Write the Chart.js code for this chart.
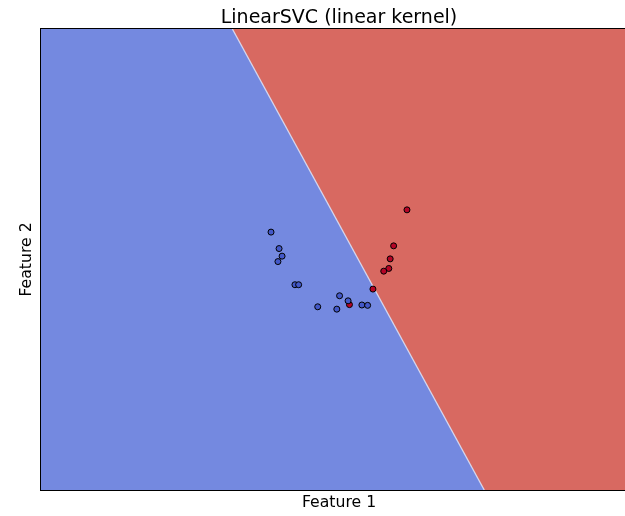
<!DOCTYPE html>
<html>
<head>
<meta charset="utf-8">
<title>LinearSVC (linear kernel)</title>
<script src="https://cdn.jsdelivr.net/npm/chart.js@4.4.1/dist/chart.umd.min.js"></script>
<style>
html,body{margin:0;padding:0;overflow:hidden;background:#fff}
</style>
</head>
<body>
<canvas id="svcChart" width="678" height="516"></canvas>
<script>
// amostras da classe 0 (azul)
const class0X = [0.000, 0.035, 0.048, 0.030, 0.104, 0.120, 0.298, 0.335, 0.203, 0.286, 0.395, 0.420];
const class0Y = [0.424, 0.333, 0.291, 0.261, 0.133, 0.133, 0.072, 0.044, 0.011, -0.002, 0.021, 0.019];
// amostras da classe 1 (vermelho)
const class1X = [0.591, 0.533, 0.518, 0.512, 0.490, 0.443, 0.341];
const class1Y = [0.547, 0.348, 0.276, 0.223, 0.208, 0.109, 0.023];
// fronteira de decisão: extremos da reta dentro da grade
const boundaryX = [-0.168, 0.927];
const boundaryY = [1.547, -1.002];
// limites da grade (min-1, max+1)
const xRange = [-1.0, 1.591];
const yRange = [-1.002, 1.547];

const FONT = "'DejaVu Sans', 'Liberation Sans', sans-serif";
const BLUE_AREA = 'rgb(116,137,224)';
const RED_AREA = 'rgb(216,105,97)';

function toPoints(xs, ys){
  return xs.map((x,i)=>({x:x, y:ys[i]}));
}

// fundo vermelho + moldura do eixo
const areaPlugin = {
  id:'areaPlugin',
  beforeDraw(chart){
    const a = chart.chartArea, ctx = chart.ctx;
    ctx.save();
    ctx.fillStyle = RED_AREA;
    ctx.fillRect(a.left, a.top, a.right-a.left, a.bottom-a.top);
    ctx.restore();
  },
  afterDraw(chart){
    const a = chart.chartArea, ctx = chart.ctx;
    ctx.save();
    ctx.strokeStyle = '#000';
    ctx.lineWidth = 1;
    ctx.strokeRect(a.left-0.5, a.top-0.5, a.right-a.left+1, a.bottom-a.top+1);
    ctx.restore();
  }
};

const blueRegion = [
  {x:xRange[0], y:yRange[1]},
  {x:boundaryX[0], y:boundaryY[0]},
  {x:boundaryX[1], y:boundaryY[1]}
];

new Chart(document.getElementById('svcChart').getContext('2d'),{
  type:'scatter',
  data:{datasets:[
    {type:'scatter', data:toPoints(class0X,class0Y), backgroundColor:'#4358c8', borderColor:'#000', borderWidth:1, pointRadius:3, order:0},
    {type:'scatter', data:toPoints(class1X,class1Y), backgroundColor:'#b40426', borderColor:'#000', borderWidth:1, pointRadius:3, order:0},
    {type:'line', data:toPoints(boundaryX,boundaryY), borderColor:'rgba(222,230,250,0.85)', borderWidth:1.3, pointRadius:0, fill:false, order:2},
    {type:'line', data:blueRegion, borderWidth:0, borderColor:BLUE_AREA, backgroundColor:BLUE_AREA, pointRadius:0, fill:'start', order:3}
  ]},
  options:{
    responsive:false,
    animation:false,
    events:[],
    layout:{padding:{left:0, right:41, top:0, bottom:0}},
    plugins:{
      legend:{display:false},
      tooltip:{enabled:false},
      // título centrado sobre a área do gráfico
      title:{display:true, fullSize:false, text:'LinearSVC (linear kernel)', color:'#000',
        font:{family:FONT, size:19, weight:'normal', lineHeight:1}, padding:{top:8.9, bottom:1.1}}
    },
    scales:{
      x:{type:'linear', min:xRange[0], max:xRange[1],
        ticks:{display:false}, grid:{display:false, drawTicks:false}, border:{display:false},
        title:{display:true, text:'Feature 1', color:'#000', font:{family:FONT, size:15.7}, padding:{top:0, bottom:3.7}},
        afterFit(s){ s.height = 26; }},
      y:{type:'linear', min:yRange[0], max:yRange[1],
        ticks:{display:false}, grid:{display:false, drawTicks:false}, border:{display:false},
        title:{display:true, text:'Feature 2', color:'#000', font:{family:FONT, size:15.7}, padding:{top:17.2, bottom:0}},
        afterFit(s){ s.width = 41; }}
    }
  },
  plugins:[areaPlugin]
});
</script>
</body>
</html>
